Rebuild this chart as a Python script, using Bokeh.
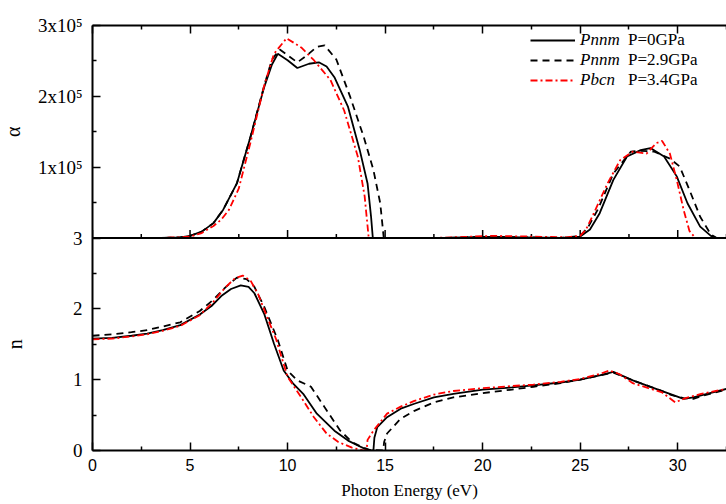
import math
from bokeh.plotting import figure
from bokeh.models import (Range1d, LinearAxis, FixedTicker, Span, Legend, LegendItem,
                          Label, CustomJSTickFormatter)
from bokeh.embed import file_html
from bokeh.resources import INLINE

# ---------------- data ----------------
# absorption coefficient alpha (cm^-1), upper panel
E_a0 = [0, 3.5, 4.5, 5.0, 5.6, 6.2, 6.7, 7.4, 8.1, 8.8, 9.2, 9.5, 10.0, 10.5, 11.1, 11.6, 12.0, 12.4,
        13.1, 13.7, 14.1, 14.28, 14.37, 16, 18, 19, 20, 21, 22, 23, 24, 25, 25.5, 26.0, 26.7, 27.4,
        28.1, 28.6, 29.3, 29.95, 30.5, 31.15, 31.7, 32.0, 32.5]
A0 = [0, 0, 0.01e5, 0.03e5, 0.09e5, 0.21e5, 0.40e5, 0.77e5, 1.43e5, 2.13e5, 2.45e5, 2.60e5, 2.51e5,
      2.40e5, 2.46e5, 2.48e5, 2.42e5, 2.27e5, 1.85e5, 1.24e5, 0.77e5, 0.30e5, 0, 0, 0, 0.01e5,
      0.015e5, 0.015e5, 0.01e5, 0.005e5, 0, 0.02e5, 0.12e5, 0.35e5, 0.82e5, 1.15e5, 1.24e5, 1.27e5,
      1.15e5, 0.87e5, 0.49e5, 0.16e5, 0.03e5, 0, 0]

E_a1 = [0, 3.5, 4.5, 5.0, 5.6, 6.2, 6.7, 7.4, 8.1, 8.8, 9.2, 9.6, 10.0, 10.5, 11.0, 11.5, 11.9, 12.5,
        13.2, 13.9, 14.4, 14.75, 14.93, 16, 18, 19, 20, 21, 22, 23, 24, 25, 25.4, 25.9, 26.7, 27.6,
        28.1, 28.8, 29.6, 30.1, 30.6, 31.15, 31.7, 32.0, 32.5]
A1 = [0, 0, 0.01e5, 0.03e5, 0.09e5, 0.21e5, 0.40e5, 0.77e5, 1.43e5, 2.15e5, 2.52e5, 2.66e5, 2.58e5,
      2.48e5, 2.58e5, 2.70e5, 2.72e5, 2.52e5, 2.00e5, 1.43e5, 0.96e5, 0.49e5, 0, 0, 0, 0.01e5,
      0.015e5, 0.015e5, 0.01e5, 0.005e5, 0, 0.03e5, 0.15e5, 0.40e5, 0.91e5, 1.22e5, 1.23e5, 1.22e5,
      1.12e5, 1.01e5, 0.68e5, 0.30e5, 0.05e5, 0, 0]

E_a2 = [0, 3.5, 4.5, 5.0, 5.6, 6.2, 6.6, 7.0, 7.5, 8.1, 8.8, 9.3, 9.95, 10.7, 11.35, 12.2, 12.9, 13.6,
        13.95, 14.16, 16, 17.5, 18.5, 19.5, 20.5, 21.5, 22.5, 23.5, 24.3, 25, 25.3, 25.7, 26.4, 27.05,
        27.7, 28.4, 28.9, 29.2, 29.6, 29.95, 30.3, 30.6, 30.9, 32.5]
A2 = [0, 0, 0.01e5, 0.02e5, 0.07e5, 0.17e5, 0.26e5, 0.40e5, 0.70e5, 1.35e5, 2.15e5, 2.60e5, 2.82e5,
      2.69e5, 2.51e5, 2.23e5, 1.80e5, 1.15e5, 0.59e5, 0, 0, 0, 0.01e5, 0.02e5, 0.03e5, 0.025e5,
      0.02e5, 0.015e5, 0.01e5, 0.03e5, 0.12e5, 0.35e5, 0.77e5, 1.10e5, 1.22e5, 1.19e5, 1.34e5,
      1.37e5, 1.19e5, 0.82e5, 0.40e5, 0.10e5, 0, 0]

# refractive index n, lower panel
E_n0 = [0, 1, 2, 2.8, 3.6, 4.5, 5.5, 6.1, 6.6, 7.1, 7.6, 8.0, 8.3, 8.8, 9.3, 9.8, 10.3, 10.8, 11.5,
        12.4, 13.1, 13.6, 14.0, 14.3, 14.4, 14.45, 14.6, 15.1, 15.8, 16.5, 17.5, 18.5, 20, 21.5, 22.6,
        24, 25, 26, 26.7, 27.7, 28.5, 29.1, 29.7, 30.3, 30.8, 31.5, 32.5]
N0 = [1.58, 1.59, 1.62, 1.65, 1.70, 1.77, 1.92, 2.04, 2.18, 2.28, 2.33, 2.31, 2.22, 1.93, 1.51, 1.13,
      0.94, 0.80, 0.52, 0.28, 0.14, 0.07, 0.02, 0.0, 0.0, 0.18, 0.33, 0.47, 0.59, 0.66, 0.75, 0.80,
      0.86, 0.89, 0.92, 0.96, 1.00, 1.06, 1.11, 0.99, 0.91, 0.85, 0.79, 0.73, 0.75, 0.80, 0.87]

E_n1 = [0, 1, 2, 2.8, 3.6, 4.5, 5.5, 6.2, 6.8, 7.4, 7.9, 8.3, 8.8, 9.5, 10.0, 10.5, 11.2, 11.9, 12.7,
        13.3, 13.8, 14.2, 14.9, 14.95, 15.1, 15.8, 16.5, 17.5, 18.5, 20, 21.5, 22.6, 24, 25, 26, 26.7,
        27.7, 28.5, 29.1, 29.7, 30.3, 30.8, 31.5, 32.5]
N1 = [1.62, 1.64, 1.67, 1.70, 1.75, 1.81, 1.97, 2.13, 2.30, 2.44, 2.42, 2.31, 2.03, 1.56, 1.13, 0.99,
      0.90, 0.61, 0.28, 0.12, 0.05, 0.01, 0.0, 0.12, 0.24, 0.45, 0.56, 0.68, 0.75, 0.81, 0.86, 0.90,
      0.95, 1.00, 1.06, 1.10, 0.99, 0.91, 0.85, 0.78, 0.74, 0.73, 0.79, 0.86]

E_n2 = [0, 1, 2, 2.8, 3.6, 4.5, 5.5, 6.2, 6.8, 7.3, 7.7, 8.1, 8.5, 9.0, 9.4, 10.0, 10.7, 11.35, 12.0,
        12.6, 13.3, 13.9, 14.05, 14.1, 14.4, 15.1, 15.8, 16.5, 17.5, 18.5, 20, 21.5, 22.6, 24, 25, 26,
        26.5, 27.0, 27.7, 28.5, 29.2, 29.87, 30.4, 31.2, 32.5]
N2 = [1.57, 1.58, 1.61, 1.64, 1.69, 1.76, 1.91, 2.10, 2.30, 2.43, 2.47, 2.40, 2.20, 1.85, 1.58, 1.04,
      0.75, 0.47, 0.24, 0.12, 0.04, 0.0, 0.0, 0.15, 0.28, 0.52, 0.62, 0.70, 0.79, 0.84, 0.88, 0.91,
      0.93, 0.97, 1.01, 1.08, 1.13, 1.08, 0.95, 0.88, 0.82, 0.68, 0.74, 0.80, 0.87]

# ticks and labels
X_MAJOR = [0, 5, 10, 15, 20, 25, 30]
X_MINOR = [2.5, 7.5, 12.5, 17.5, 22.5, 27.5, 32.5]
N_TICKS = [0, 1, 2, 3]
N_TICK_LABELS = ["0", "1", "2", "3"]
ALPHA_TICKS = [1e5, 2e5, 3e5]
ALPHA_TICK_LABELS = ["1x10\u2075", "2x10\u2075", "3x10\u2075"]
SERIES_NAMES = ["Pnnm", "Pnnm", "Pbcn"]
SERIES_PRESSURES = ["P=0GPa", "P=2.9GPa", "P=3.4GPa"]

N_MAX = 3.0
ALPHA_MAX = 3e5

# ---------------- figure ----------------
SERIF = "Liberation Serif"
SANS = "Liberation Sans"

p = figure(width=726, height=502, x_range=Range1d(0, 32.5), y_range=Range1d(0, 2 * N_MAX),
           output_backend="svg", toolbar_location=None,
           x_axis_location=None, y_axis_location=None,
           min_border_left=92, min_border_right=0, min_border_top=25, min_border_bottom=52)
p.extra_y_ranges = {"alpha": Range1d(-ALPHA_MAX, ALPHA_MAX)}
p.grid.visible = False
p.outline_line_color = None
p.background_fill_color = "white"


def alpha_to_y(a):
    return N_MAX + a / (ALPHA_MAX / N_MAX)


# axes
xb = LinearAxis(ticker=FixedTicker(ticks=X_MAJOR, minor_ticks=X_MINOR),
                axis_label="Photon Energy (eV)")
xt = LinearAxis(ticker=FixedTicker(ticks=X_MAJOR, minor_ticks=X_MINOR),
                formatter=CustomJSTickFormatter(code="return ''"))
left_ticks = N_TICKS + [alpha_to_y(a) for a in ALPHA_TICKS]
left_minor = [t + 0.5 for t in N_TICKS] + [alpha_to_y(a) - 0.5 for a in ALPHA_TICKS]
overrides = {}
for t, s in zip(N_TICKS, N_TICK_LABELS):
    overrides[float(t)] = s
for a, s in zip(ALPHA_TICKS, ALPHA_TICK_LABELS):
    overrides[float(alpha_to_y(a))] = s
yl = LinearAxis(ticker=FixedTicker(ticks=left_ticks, minor_ticks=left_minor),
                major_label_overrides=overrides)

for ax in (xb, xt, yl):
    ax.axis_line_color = "black"
    ax.axis_line_width = 2
    ax.major_tick_in = 8
    ax.major_tick_out = 0
    ax.minor_tick_in = 4
    ax.minor_tick_out = 0
    ax.major_tick_line_width = 1.5
    ax.minor_tick_line_width = 1.5
    ax.major_tick_line_color = "black"
    ax.minor_tick_line_color = "black"

xb.major_label_text_font = SANS
xb.major_label_text_font_size = "16px"
xb.major_label_text_color = "black"
xb.major_label_standoff = 8
xb.axis_label_text_font = SERIF
xb.axis_label_text_font_size = "17px"
xb.axis_label_text_font_style = "normal"
xb.axis_label_text_color = "black"
xb.axis_label_standoff = 7

xt.major_label_text_font_size = "0px"
xt.major_label_standoff = 0

yl.major_label_text_font = SERIF
yl.major_label_text_font_size = "19px"
yl.major_label_text_color = "black"
yl.major_label_standoff = 10

p.add_layout(xb, "below")
p.add_layout(xt, "above")
p.add_layout(yl, "left")

# boundary between the two panels with upward ticks
p.add_layout(Span(location=N_MAX, dimension="width", line_color="black", line_width=2))
p.ray(x=X_MAJOR, y=[N_MAX] * len(X_MAJOR), length=8, length_units="screen",
      angle=math.pi / 2, line_color="black", line_width=1.5)
p.ray(x=X_MINOR, y=[N_MAX] * len(X_MINOR), length=4, length_units="screen",
      angle=math.pi / 2, line_color="black", line_width=1.5)

# curves
LW = 1.8
styles = [dict(line_color="black", line_dash="solid"),
          dict(line_color="black", line_dash="7 5"),
          dict(line_color="#ff0000", line_dash="7 3 2 3")]

ra = []
for (ex, ay), st in zip([(E_a0, A0), (E_a1, A1), (E_a2, A2)], styles):
    ra.append(p.line(ex, ay, y_range_name="alpha", line_width=LW, **st))
for (ex, ny), st in zip([(E_n0, N0), (E_n1, N1), (E_n2, N2)], styles):
    p.line(ex, ny, line_width=LW, **st)

# legend: italic phase names with line samples, then pressures
leg1 = Legend(items=[LegendItem(label=s, renderers=[r]) for s, r in zip(SERIES_NAMES, ra)],
              location=(438, 360), orientation="vertical",
              glyph_width=45, glyph_height=18, label_height=18, spacing=0, padding=0, margin=0,
              label_standoff=5, border_line_color=None, background_fill_alpha=0,
              label_text_font=SERIF, label_text_font_style="italic",
              label_text_font_size="17px", label_text_color="black")
leg2 = Legend(items=[LegendItem(label=s, renderers=[r]) for s, r in zip(SERIES_PRESSURES, ra)],
              location=(536, 360), orientation="vertical",
              glyph_width=0, glyph_height=18, label_height=18, spacing=0, padding=0, margin=0,
              label_standoff=0, border_line_color=None, background_fill_alpha=0,
              label_text_font=SERIF, label_text_font_style="normal",
              label_text_font_size="17px", label_text_color="black")
p.add_layout(leg1)
p.add_layout(leg2)

# panel axis titles, placed in side panels (outside the frame)
p.add_layout(Label(x=0, y=alpha_to_y(ALPHA_MAX / 2), x_units="screen", y_units="data",
                   text="\u03b1", angle=math.pi / 2, text_align="center", text_baseline="middle",
                   text_font=SERIF, text_font_size="20px", text_color="black"), "left")
p.add_layout(Label(x=-78, y=N_MAX / 2, x_units="screen", y_units="data",
                   text="n", angle=math.pi / 2, text_align="center", text_baseline="middle",
                   text_font=SERIF, text_font_size="20px", text_color="black"), "above")

open("out.html", "w").write(file_html(p, INLINE))
